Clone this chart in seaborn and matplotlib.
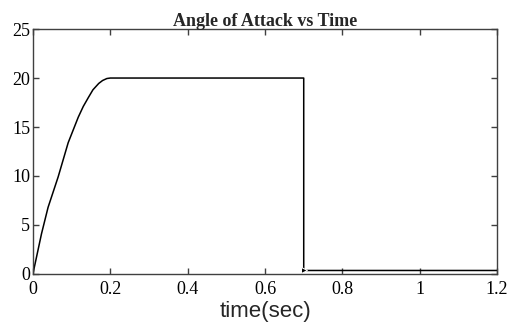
import matplotlib
matplotlib.use("Agg")
import matplotlib.pyplot as plt
import seaborn as sns
import pandas as pd

time_s = [0.0, 0.003, 0.009, 0.022, 0.039, 0.065, 0.091, 0.117, 0.130, 0.143, 0.155,
          0.170, 0.180, 0.191, 0.2, 0.7, 0.7, 1.2]
angle = [0.0, 0.6, 1.7, 4.1, 6.8, 9.9, 13.4, 16.0, 17.1, 18.0, 18.8,
         19.45, 19.75, 19.95, 20.0, 20.0, 0.35, 0.35]
xticks = [0, 0.2, 0.4, 0.6, 0.8, 1, 1.2]
xtick_labels = ["0", "0.2", "0.4", "0.6", "0.8", "1", "1.2"]
yticks = [0, 5, 10, 15, 20, 25]

sns.set_style("ticks")
plt.rcParams["font.family"] = ["Liberation Serif", "DejaVu Serif"]
plt.rcParams["xtick.direction"] = "in"
plt.rcParams["ytick.direction"] = "in"

df = pd.DataFrame({"time": time_s, "angle": angle})

fig = plt.figure(figsize=(5.1, 3.23), dpi=100)
ax = fig.add_axes([0.0647, 0.152, 0.91, 0.758])
sns.lineplot(data=df, x="time", y="angle", sort=False, estimator=None,
             color="black", linewidth=1.1, ax=ax,
             marker=">", markevery=[16], markersize=5)

ax.set_xlim(0, 1.2)
ax.set_ylim(0, 25)
ax.set_xticks(xticks)
ax.set_xticklabels(xtick_labels)
ax.set_yticks(yticks)
ax.tick_params(axis="both", labelsize=13, length=4, width=1, color="#404040",
               top=True, right=True, labelcolor="black")
ax.tick_params(axis="x", pad=5)
ax.tick_params(axis="y", pad=2)
for s in ax.spines.values():
    s.set_visible(True)
    s.set_color("#404040")
    s.set_linewidth(1.0)

ax.set_xlabel("time(sec)", fontsize=16, family=["Liberation Sans", "DejaVu Sans"], labelpad=2)
ax.set_ylabel("")
ax.set_title("Angle of Attack vs Time", fontsize=13, fontweight="bold", pad=2)

fig.savefig("out.png", dpi=100)
